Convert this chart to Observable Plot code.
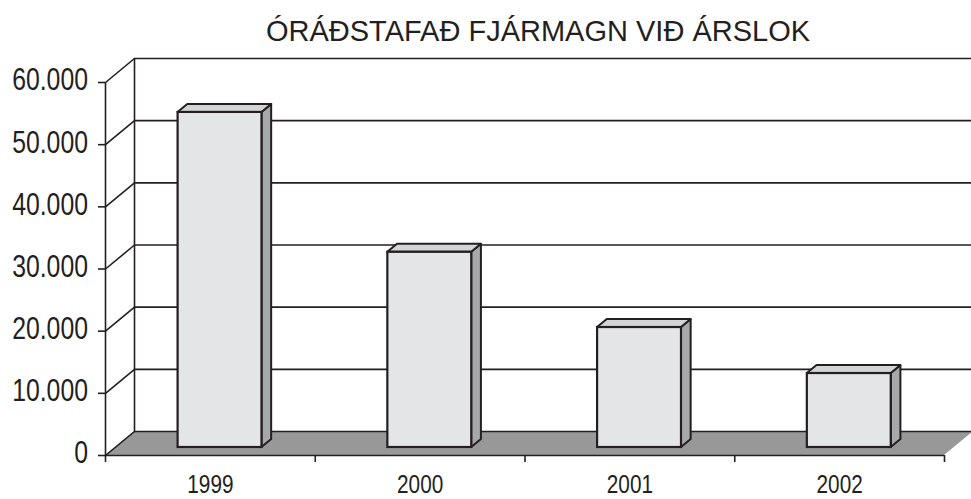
<!DOCTYPE html>
<html><head><meta charset="utf-8">
<script src="https://cdn.jsdelivr.net/npm/d3@7"></script>
<script src="https://cdn.jsdelivr.net/npm/@observablehq/plot@0.6"></script>
<style>
body{margin:0;background:#fff;}
#title{box-sizing:border-box;height:50px;padding-top:17px;padding-left:105px;width:971px;text-align:center;font-family:"Liberation Sans",Arial,sans-serif;font-size:29px;line-height:29px;color:#231f20;white-space:nowrap;}
</style></head><body>
<div id="title"></div>
<div id="chart"></div>
<script>
const title = "ÓRÁÐSTAFAÐ FJÁRMAGN VIÐ ÁRSLOK";
const years = ["1999", "2000", "2001", "2002"];
const values = [53900, 31400, 19300, 11900];
const yTicks = [0, 10000, 20000, 30000, 40000, 50000, 60000];
const yTickLabels = ["0", "10.000", "20.000", "30.000", "40.000", "50.000", "60.000"];

document.getElementById("title").textContent = title;

const W = 971, H = 449, mL = 105, mR = 27, mT = 32, mB = 44;
const yMax = 60000;
const n = years.length;
const pxX = (W - mL - mR) / n;
const pxY = (H - mT - mB) / yMax;
const wallDX = 29, wallDY = 24;           // wall depth, px
const DX = wallDX / pxX, DY = wallDY / pxY; // wall depth, data units
const barW = 0.4, f0 = 1/3, f1 = 2/3;
const bDX = (f1 - f0) * DX, bDY = (f1 - f0) * DY;
const ink = "#231f20";

const bars = years.map((y, i) => ({year: y, v: values[i], L: i + 0.5 - barW/2, R: i + 0.5 + barW/2}));
const topFaces = bars.flatMap((b, i) => [
  {z: i, y: b.v, x1: b.L, x2: b.R},
  {z: i, y: b.v + bDY, x1: b.L + bDX, x2: b.R + bDX}
]);
const sideFaces = bars.flatMap((b, i) => [
  {z: i, x: b.R, y1: 0, y2: b.v},
  {z: i, x: b.R + bDX, y1: bDY, y2: b.v + bDY}
]);
const floor = [{y: 0, x1: 0, x2: n}, {y: DY, x1: DX, x2: n + DX}];
const bounds = d3.range(n + 1);
const barOff = {dx: f0 * wallDX, dy: -f0 * wallDY};

const chart = Plot.plot({
  width: W, height: H,
  marginLeft: mL, marginRight: mR, marginTop: mT, marginBottom: mB,
  x: {type: "linear", domain: [0, n], axis: null},
  y: {type: "linear", domain: [0, yMax], axis: null},
  style: {fontFamily: "'Liberation Sans',Arial,sans-serif", background: "#fff", color: ink, overflow: "visible"},
  marks: [
    Plot.areaX(floor, {y: "y", x1: "x1", x2: "x2", fill: "#989899"}),
    Plot.ruleY(yTicks, {dx: wallDX, dy: -wallDY, stroke: ink, strokeWidth: 1.6}),
    Plot.ruleX([0], {y1: 0, y2: yMax, dx: wallDX, dy: -wallDY, stroke: ink, strokeWidth: 1.6}),
    Plot.link(yTicks, {x1: 0, x2: DX, y1: d => d, y2: d => d + DY, stroke: ink, strokeWidth: 1.6}),
    Plot.ruleX([0], {y1: 0, y2: yMax, stroke: ink, strokeWidth: 1.6}),
    Plot.ruleY(yTicks, {x1: -7 / pxX, x2: 0, stroke: ink, strokeWidth: 1.6}),
    Plot.ruleY([0], {x1: 0, x2: n, stroke: ink, strokeWidth: 1.6}),
    Plot.ruleX(bounds, {y1: 0, y2: -7 / pxY, stroke: ink, strokeWidth: 1.6}),
    Plot.areaY(sideFaces, {x: "x", y1: "y1", y2: "y2", z: "z", fill: "#a7a8aa", stroke: ink, strokeWidth: 2, strokeLinejoin: "round", ...barOff}),
    Plot.areaX(topFaces, {y: "y", x1: "x1", x2: "x2", z: "z", fill: "#d3d4d6", stroke: ink, strokeWidth: 2, strokeLinejoin: "round", ...barOff}),
    Plot.rectY(bars, {x1: "L", x2: "R", y1: 0, y2: "v", fill: "#e4e5e7", stroke: ink, strokeWidth: 2.2, ...barOff}),
    Plot.text(yTicks, {x: 0, y: d => d, text: (d, i) => yTickLabels[i], textAnchor: "end", dx: -17.5, dy: -2, fontSize: 31, fill: ink}),
    Plot.text(bars, {x: (d, i) => i + 0.5, y: 0, text: "year", dy: 29, fontSize: 25, fill: ink})
  ]
});
document.getElementById("chart").appendChild(chart);
// the reference uses a condensed face; compress glyphs horizontally
chart.querySelectorAll("text").forEach(t => {
  const len = t.getComputedTextLength();
  const fs = parseFloat(t.closest("[font-size]")?.getAttribute("font-size") || t.getAttribute("font-size") || 0);
  const k = fs > 28 ? 0.8 : 0.83;
  t.setAttribute("textLength", (len * k).toFixed(2));
  t.setAttribute("lengthAdjust", "spacingAndGlyphs");
});
</script>
</body></html>
